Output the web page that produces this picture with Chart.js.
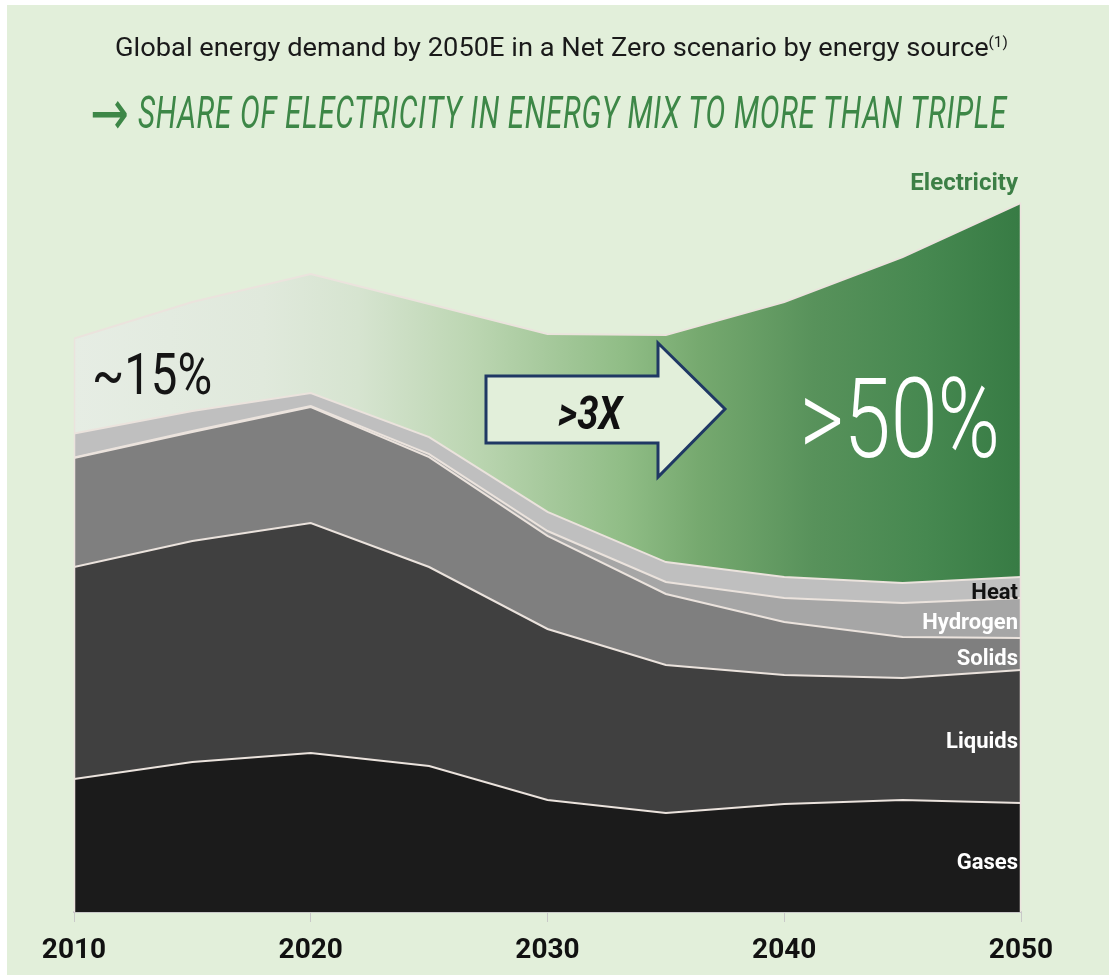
<!DOCTYPE html>
<html>
<head>
<meta charset="utf-8">
<script src="https://cdn.jsdelivr.net/npm/chart.js@4.4.1/dist/chart.umd.min.js"></script>
<style>
  html, body { margin: 0; padding: 0; background: #fff; overflow: hidden; width: 1109px; height: 975px; }
  #panel { position: absolute; left: 7px; top: 5px; width: 1102px; height: 970px; background: #e2efda; }
  #chart { position: absolute; left: 0; top: 0; }
  .txt { position: absolute; white-space: nowrap; transform-origin: 0 0; line-height: 1; font-family: Roboto, sans-serif; }
  #title { left: 115px; top: 35px; font-size: 25px; font-weight: 400; color: #1a1a1a; }
  #title sup { font-size: 14px; vertical-align: 9px; line-height: 0; }
  #arrow { left: 90px; top: 81px; font-family: "DejaVu Sans", sans-serif; font-size: 64px; font-weight: 400; color: #3d8747; }
  #subtitle { left: 138px; top: 91px; font-size: 44px; font-style: italic; font-weight: 400; color: #3d8747; letter-spacing: 1px; }
  #p15 { left: 92px; top: 345px; font-size: 58px; font-weight: 400; color: #151515; }
  #p50 { left: 800px; top: 363px; font-size: 112px; font-weight: 300; color: #fff; }
  #x3 { left: 558px; top: 390px; font-size: 46px; font-style: italic; font-weight: 700; color: #111; }
  svg { position: absolute; left: 0; top: 0; }
</style>
</head>
<body>
<div id="panel"></div>
<canvas id="chart" width="1109" height="1000"></canvas>
<svg width="1109" height="975">
  <polygon points="486,376 658,376 658,343 725,409 658,477 658,443 486,443"
           fill="#e2efda" stroke="#1f3864" stroke-width="3" stroke-linejoin="miter"/>
</svg>
<div class="txt" id="title">Global energy demand by 2050E in a Net Zero scenario by energy source<sup>(1)</sup></div>
<div class="txt" id="arrow">→</div>
<div class="txt" id="subtitle">SHARE OF ELECTRICITY IN ENERGY MIX TO MORE THAN TRIPLE</div>
<div class="txt" id="p15">~15%</div>
<div class="txt" id="p50">&gt;50%</div>
<div class="txt" id="x3">&gt;3X</div>

<script>
// final energy demand by source, arbitrary units
const years = [2010, 2015, 2020, 2025, 2030, 2035, 2040, 2045, 2050];
const gases = [88.7, 100, 106, 97.3, 74.7, 66, 72, 74.7, 72.7];
const liquids = [141.3, 147.3, 153.3, 132.7, 114, 98.7, 86, 81.3, 88.7];
const solids = [72.7, 72.7, 77.3, 73.3, 62, 47.3, 35.3, 27.3, 21.3];
const hydrogen = [0.3, 0.7, 0.7, 2, 3.3, 8, 16, 22.7, 26.7];
const heat = [16, 13.3, 8.7, 11.3, 12.7, 13.3, 14, 13.3, 14];
const electricity = [63.3, 72.7, 79.3, 88.7, 118.7, 151.3, 183.3, 217.3, 249.3];
const seriesNames = ["Gases", "Liquids", "Solids", "Hydrogen", "Heat", "Electricity"];
const xTicks = [2010, 2020, 2030, 2040, 2050];

const fills = ["#1b1b1b", "#404040", "#7f7f7f", "#a6a6a6", "#bfbfbf", null];
const labelColors = ["#fff", "#fff", "#fff", "#fff", "#111", "#3c7f46"];

// squeeze text boxes to the widths of the condensed font in the original
function fit(id, w) {
  const el = document.getElementById(id);
  el.style.transform = "scaleX(" + (w / el.offsetWidth) + ")";
}
fit("title", 893);
fit("arrow", 39);
fit("subtitle", 869);
fit("p15", 120);
fit("p50", 200);
fit("x3", 64);

function electricityFill(context) {
  const chart = context.chart;
  const area = chart.chartArea;
  if (!area) return "#8fbf85";
  const g = chart.ctx.createLinearGradient(area.left, 0, area.right, 0);
  g.addColorStop(0, "#e6ede4");
  g.addColorStop(0.2, "#e0e9dc");
  g.addColorStop(0.3, "#d6e4d0");
  g.addColorStop(0.42, "#bcd6b2");
  g.addColorStop(0.5, "#a6c99c");
  g.addColorStop(0.58, "#90bd86");
  g.addColorStop(0.66, "#76a96f");
  g.addColorStop(0.78, "#58925b");
  g.addColorStop(0.9, "#468850");
  g.addColorStop(1, "#377b44");
  return g;
}

const series = [gases, liquids, solids, hydrogen, heat, electricity];
const datasets = series.map((vals, i) => ({
  label: seriesNames[i],
  data: vals.map((v, j) => ({ x: years[j], y: v })),
  backgroundColor: fills[i] || electricityFill,
  borderColor: "#ebe3dd",
  borderWidth: 2,
  pointRadius: 0,
  tension: 0,
  fill: i === 0 ? "origin" : "-1"
}));

const seriesLabels = {
  id: "seriesLabels",
  afterDatasetsDraw(chart) {
    const ctx = chart.ctx;
    const area = chart.chartArea;
    const last = years.length - 1;
    const n = chart.data.datasets.length;
    const topY = chart.getDatasetMeta(n - 1).data;
    ctx.save();
    // thin light edges at both ends of the stack
    ctx.strokeStyle = "#ebe3dd";
    ctx.lineWidth = 1.5;
    ctx.beginPath();
    ctx.moveTo(area.left + 0.5, area.bottom);
    ctx.lineTo(area.left + 0.5, topY[0].y);
    ctx.moveTo(area.right - 0.5, area.bottom);
    ctx.lineTo(area.right - 0.5, topY[last].y);
    ctx.stroke();

    ctx.textAlign = "right";
    ctx.textBaseline = "middle";
    chart.data.datasets.forEach((ds, i) => {
      const top = chart.getDatasetMeta(i).data[last].y;
      const bottom = i ? chart.getDatasetMeta(i - 1).data[last].y : area.bottom;
      let y = (top + bottom) / 2 + 6;
      ctx.font = "700 22px Roboto, sans-serif";
      if (i === n - 1) {
        y = top - 19;
        ctx.font = "700 24px Roboto, sans-serif";
      }
      ctx.fillStyle = labelColors[i];
      ctx.fillText(ds.label, area.right - 3, y);
    });
    ctx.restore();
  }
};

new Chart(document.getElementById("chart"), {
  type: "line",
  data: { datasets: datasets },
  plugins: [seriesLabels],
  options: {
    responsive: false,
    animation: false,
    devicePixelRatio: 1,
    layout: { padding: { left: 74, right: 88, top: 162, bottom: 20.4 } },
    plugins: { legend: { display: false }, tooltip: { enabled: false } },
    scales: {
      x: {
        type: "linear",
        min: 2010,
        max: 2050,
        afterBuildTicks: s => { s.ticks = xTicks.map(v => ({ value: v })); },
        grid: { drawOnChartArea: false, drawTicks: true, tickLength: 10, color: "#c8c8c8" },
        border: { display: true, color: "#c8c8c8", width: 2 },
        ticks: {
          padding: 12,
          color: "#111",
          font: { family: "Roboto, sans-serif", size: 28, weight: "700" },
          callback: v => String(v)
        }
      },
      y: {
        display: false,
        stacked: true,
        min: 0,
        max: 500
      }
    }
  }
});
</script>
</body>
</html>
